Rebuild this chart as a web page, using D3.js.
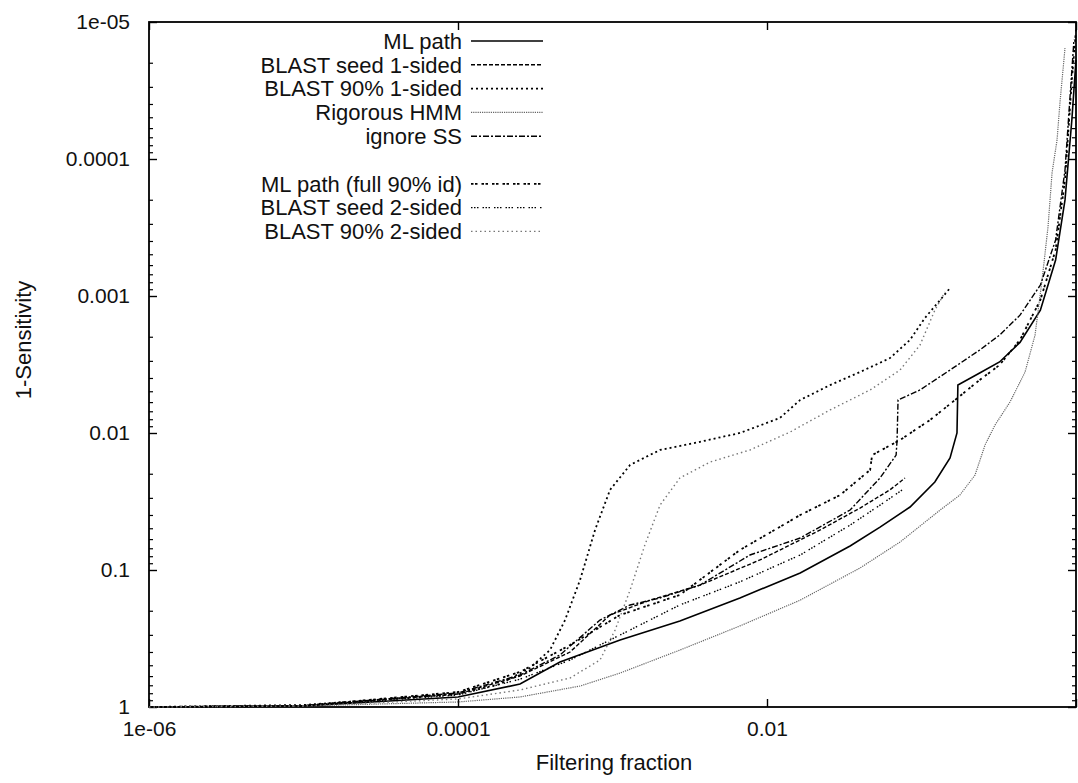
<!DOCTYPE html>
<html>
<head>
<meta charset="utf-8">
<script src="https://cdn.jsdelivr.net/npm/d3@7"></script>
<style>
  body { margin: 0; background: #fff; }
  svg text { font-family: "Liberation Sans", Arial, sans-serif; fill: #111; }
</style>
</head>
<body>
<div id="chart"></div>
<script>
// [filtering fraction, 1-sensitivity]
const mlPath = [[1e-6, 1], [1e-5, 0.983], [1e-4, 0.845], [2.52e-4, 0.68], [4.57e-4, 0.47], [1.12e-3, 0.324], [2.73e-3, 0.236], [6.68e-3, 0.16], [0.0164, 0.105], [0.0345, 0.0668], [0.0539, 0.0486], [0.0843, 0.0347], [0.122, 0.0228], [0.153, 0.0152], [0.1697, 0.01], [0.172, 0.00447], [0.238, 0.00365], [0.32, 0.00303], [0.434, 0.00218], [0.588, 0.00127], [0.738, 0.000546], [0.849, 0.000199], [0.94, 5.19e-5], [1.0, 1.89e-5]];
const blastSeed1 = [[1e-6, 1], [1e-5, 0.98], [1e-4, 0.804], [2.52e-4, 0.594], [5.31e-4, 0.397], [9.64e-4, 0.213], [1.75e-3, 0.166], [3.68e-3, 0.129], [9.0e-3, 0.0845], [0.0221, 0.051], [0.04, 0.0353], [0.0625, 0.026], [0.0782, 0.0213]];
const blast90_1 = [[1e-6, 1], [1e-5, 0.967], [1e-4, 0.804], [1.87e-4, 0.68], [2.92e-4, 0.519], [3.94e-4, 0.384], [4.93e-4, 0.232], [6.17e-4, 0.118], [7.71e-4, 0.051], [9.64e-4, 0.026], [1.3e-3, 0.0171], [2.03e-3, 0.0133], [3.68e-3, 0.0116], [6.68e-3, 0.01], [0.0121, 0.00778], [0.0164, 0.00574], [0.0256, 0.00447], [0.04, 0.00359], [0.0625, 0.00284], [0.0843, 0.00209], [0.105, 0.00145], [0.132, 0.00107], [0.153, 0.000875]];
const rigorousHmm = [[1e-6, 1], [1e-5, 0.983], [1e-4, 0.919], [2.52e-4, 0.845], [6.17e-4, 0.703], [1.12e-3, 0.565], [2.73e-3, 0.384], [6.68e-3, 0.256], [0.0164, 0.166], [0.04, 0.0967], [0.0726, 0.0625], [0.132, 0.0365], [0.177, 0.0284], [0.222, 0.0203], [0.258, 0.0122], [0.299, 0.00875], [0.374, 0.00594], [0.468, 0.00359], [0.543, 0.00193], [0.603, 0.000764], [0.659, 0.000313], [0.7, 0.000126], [0.754, 7.26e-5], [0.787, 3.9e-5], [0.849, 1.55e-5]];
const ignoreSS = [[1e-6, 1], [1e-5, 0.98], [1e-4, 0.79], [2.52e-4, 0.584], [4.57e-4, 0.417], [8.3e-4, 0.232], [1.3e-3, 0.18], [2.03e-3, 0.16], [3.68e-3, 0.129], [7.76e-3, 0.0777], [0.0164, 0.0584], [0.0345, 0.0365], [0.0539, 0.0213], [0.0685, 0.0145], [0.0695, 0.01125], [0.0705, 0.00574], [0.0978, 0.00485], [0.153, 0.00347], [0.238, 0.00248], [0.32, 0.00193], [0.434, 0.00138], [0.588, 0.000832], [0.738, 0.00039], [0.849, 0.00012], [0.912, 3.71e-5], [0.97, 1.35e-5]];
const mlFull90 = [[1e-6, 1], [1e-5, 0.98], [1e-4, 0.777], [2.52e-4, 0.555], [5.31e-4, 0.353], [1.12e-3, 0.213], [2.73e-3, 0.152], [6.68e-3, 0.0714], [0.0164, 0.0397], [0.0297, 0.0284], [0.0465, 0.0186], [0.0479, 0.0145], [0.0726, 0.01125], [0.1135, 0.00804], [0.165, 0.00574], [0.238, 0.0041], [0.32, 0.00319], [0.434, 0.00209], [0.588, 0.00107], [0.738, 0.000461], [0.849, 0.000142], [0.94, 2.65e-5], [1.0, 1.14e-5]];
const blastSeed2 = [[1e-6, 1], [1e-5, 0.985], [1e-4, 0.817], [2.52e-4, 0.627], [5.31e-4, 0.454], [1.12e-3, 0.298], [2.73e-3, 0.18], [6.68e-3, 0.122], [0.0164, 0.0777], [0.0345, 0.047], [0.0539, 0.0336], [0.0782, 0.0252]];
const blast90_2 = [[1e-6, 1], [1e-5, 0.983], [1e-4, 0.874], [2.52e-4, 0.751], [5.31e-4, 0.614], [8.3e-4, 0.454], [1.04e-3, 0.274], [1.3e-3, 0.14], [1.62e-3, 0.0657], [2.03e-3, 0.0336], [2.73e-3, 0.0213], [4.28e-3, 0.0163], [7.76e-3, 0.0133], [0.0141, 0.00984], [0.0256, 0.00679], [0.0465, 0.00485], [0.0726, 0.00347], [0.0978, 0.00228], [0.122, 0.00127], [0.142, 0.000935]];

const seriesNames = ['ML path', 'BLAST seed 1-sided', 'BLAST 90% 1-sided', 'Rigorous HMM', 'ignore SS',
  'ML path (full 90% id)', 'BLAST seed 2-sided', 'BLAST 90% 2-sided'];
const seriesData = [mlPath, blastSeed1, blast90_1, rigorousHmm, ignoreSS, mlFull90, blastSeed2, blast90_2];
const legendRows = [0, 1, 2, 3, 4, 6, 7, 8];

const xTicks = [1e-6, 1e-4, 1e-2, 1];
const xTickLabels = ['1e-06', '0.0001', '0.01', ''];
const yTicks = [1, 0.1, 0.01, 0.001, 0.0001, 0.00001];
const yTickLabels = ['1', '0.1', '0.01', '0.001', '0.0001', '1e-05'];

(function () {
  let W = 1078, H = 783;
  let margin = { top: 22, right: 2, bottom: 76, left: 149 };

  // line looks, same order as seriesNames
  let styles = [
    { dash: null, color: '#000', w: 1.6 },
    { dash: '4,2', color: '#000', w: 1.4 },
    { dash: '2,3', color: '#000', w: 1.8 },
    { dash: '1.2,1', color: '#666', w: 1.2 },
    { dash: '6,2,2,2', color: '#000', w: 1.4 },
    { dash: '2.5,1.5,2.5,4', color: '#000', w: 1.8 },
    { dash: '1.5,1.5,1.5,1.5,1.5,4', color: '#000', w: 1.4 },
    { dash: '1.5,3', color: '#777', w: 1.4 }
  ];

  let x = d3.scaleLog().domain([1e-6, 1]).range([margin.left, W - margin.right]);
  let y = d3.scaleLog().domain([1, 1e-5]).range([H - margin.bottom, margin.top]);

  let svg = d3.select('#chart').append('svg').attr('width', W).attr('height', H);

  // minor y ticks, both sides
  let minorY = [];
  for (let e = -5; e < 0; e++) {
    for (let m = 2; m <= 9; m++) minorY.push(m * Math.pow(10, e));
  }
  let minor = svg.append('g').attr('stroke', '#000').attr('stroke-width', 1.2);
  minor.selectAll('.ml').data(minorY).enter().append('line')
    .attr('x1', x.range()[0]).attr('x2', x.range()[0] + 4)
    .attr('y1', (d) => y(d)).attr('y2', (d) => y(d));
  minor.selectAll('.mr').data(minorY).enter().append('line')
    .attr('x1', x.range()[1]).attr('x2', x.range()[1] - 4)
    .attr('y1', (d) => y(d)).attr('y2', (d) => y(d));

  let yAxis = svg.append('g')
    .attr('transform', `translate(${margin.left}, 0)`)
    .call(d3.axisLeft(y).tickValues(yTicks).tickSize(-8).tickPadding(19)
      .tickFormat((d, i) => yTickLabels[i]));

  let yAxisR = svg.append('g')
    .attr('transform', `translate(${W - margin.right}, 0)`)
    .call(d3.axisRight(y).tickValues(yTicks).tickSize(-8).tickFormat(''));

  let xAxis = svg.append('g')
    .attr('transform', `translate(0, ${H - margin.bottom})`)
    .call(d3.axisBottom(x).tickValues(xTicks).tickSize(-8).tickPadding(14)
      .tickFormat((d, i) => xTickLabels[i]));

  let xAxisT = svg.append('g')
    .attr('transform', `translate(0, ${margin.top})`)
    .call(d3.axisTop(x).tickValues(xTicks).tickSize(-8).tickFormat(''));

  [yAxis, yAxisR, xAxis, xAxisT].forEach((g) => {
    g.select('.domain').remove();
    g.selectAll('line').attr('stroke', '#000').attr('stroke-width', 1.4);
    g.selectAll('text').style('font-size', '21px').attr('fill', '#111');
  });

  svg.append('rect')
    .attr('x', x.range()[0]).attr('y', y.range()[1])
    .attr('width', x.range()[1] - x.range()[0])
    .attr('height', y.range()[0] - y.range()[1])
    .attr('fill', 'none').attr('stroke', '#000').attr('stroke-width', 1.8);

  let line = d3.line().x((d) => x(d[0])).y((d) => y(d[1]));

  svg.append('g').selectAll('path').data(seriesData).enter().append('path')
    .attr('d', line)
    .attr('fill', 'none')
    .attr('stroke', (d, i) => styles[i].color)
    .attr('stroke-width', (d, i) => styles[i].w)
    .attr('stroke-dasharray', (d, i) => styles[i].dash);

  // key
  let key = svg.append('g');
  let rowY = (i) => 41 + legendRows[i] * 23.8;
  seriesNames.forEach((name, i) => {
    key.append('text')
      .attr('x', 462).attr('y', rowY(i)).attr('dy', '0.35em')
      .attr('text-anchor', 'end')
      .style('font-size', '22px')
      .attr('fill', i === 7 ? '#777' : '#111')
      .text(name);
    key.append('line')
      .attr('x1', 471).attr('x2', 543)
      .attr('y1', rowY(i)).attr('y2', rowY(i))
      .attr('stroke', styles[i].color)
      .attr('stroke-width', styles[i].w)
      .attr('stroke-dasharray', styles[i].dash);
  });

  svg.append('text')
    .attr('x', 614).attr('y', 770)
    .attr('text-anchor', 'middle')
    .style('font-size', '22px')
    .text('Filtering fraction');

  svg.append('text')
    .attr('transform', 'translate(31, 340) rotate(-90)')
    .attr('text-anchor', 'middle')
    .style('font-size', '22px')
    .text('1-Sensitivity');
})();
</script>
</body>
</html>
